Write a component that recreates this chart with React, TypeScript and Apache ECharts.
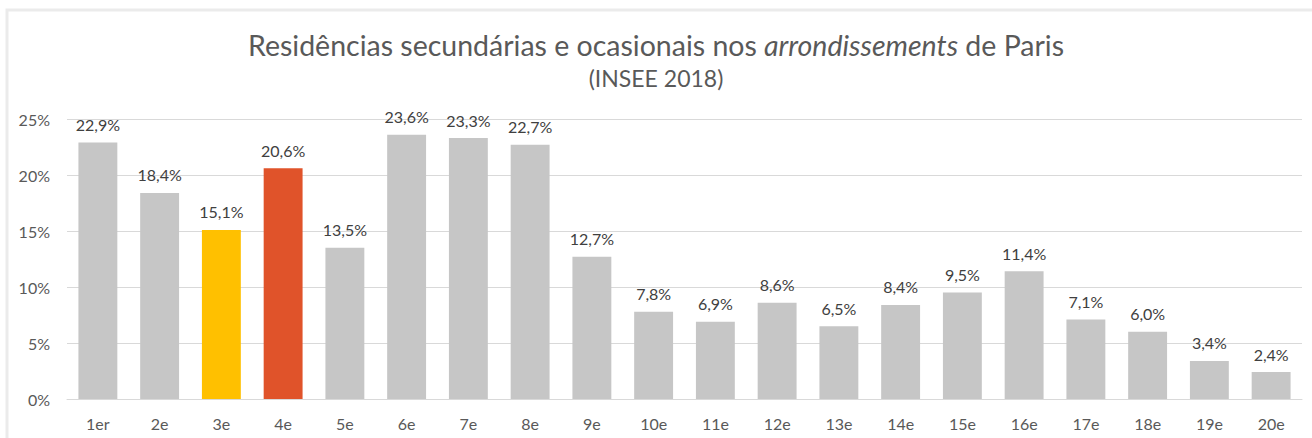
import React, { useEffect, useRef } from "react";
import * as echarts from "echarts";

const categories = ["1er", "2e", "3e", "4e", "5e", "6e", "7e", "8e", "9e", "10e", "11e", "12e", "13e", "14e", "15e", "16e", "17e", "18e", "19e", "20e"];
const values = [22.9, 18.4, 15.1, 20.6, 13.5, 23.6, 23.3, 22.7, 12.7, 7.8, 6.9, 8.6, 6.5, 8.4, 9.5, 11.4, 7.1, 6.0, 3.4, 2.4];
const highlight: Record<string, string> = { "3e": "#FFC000", "4e": "#E0532A" };
const baseColor = "#C6C6C6";
const yTicks = [0, 5, 10, 15, 20, 25];

const FONT = "Lato, 'Open Sans', sans-serif";

export default function App() {
  const ref = useRef<HTMLDivElement>(null);
  useEffect(() => {
    if (!ref.current) return;
    const chart = echarts.init(ref.current, null, { renderer: "svg" });
    chart.setOption({
      animation: false,
      backgroundColor: "#ffffff",
      textStyle: { fontFamily: FONT },
      graphic: [
        { type: "rect", shape: { x: 7, y: 10, width: 1310, height: 440 }, style: { fill: "none", stroke: "#ebebeb", lineWidth: 3 }, silent: true },
      ],
      title: [
        {
          text: "{a|Residências secundárias e ocasionais nos }{b|arrondissements}{a| de Paris}",
          left: "center",
          top: 25,
          textStyle: {
            fontWeight: "normal",
            rich: {
              a: { fontSize: 28.5, color: "#595959", fontWeight: "normal", fontFamily: FONT },
              b: { fontSize: 28.5, color: "#595959", fontWeight: "normal", fontStyle: "italic", fontFamily: FONT },
            },
          },
        },
        {
          text: "(INSEE 2018)",
          left: "center",
          top: 61,
          textStyle: { fontSize: 23, color: "#595959", fontWeight: "normal", fontFamily: FONT },
        },
      ],
      grid: { left: 67, right: 10, top: 119, bottom: 39 },
      xAxis: {
        type: "category",
        data: categories,
        axisLine: { lineStyle: { color: "#d9d9d9", width: 1 } },
        axisTick: { show: false },
        axisLabel: { color: "#595959", fontSize: 16, margin: 16, fontFamily: FONT },
      },
      yAxis: {
        type: "value",
        min: yTicks[0],
        max: yTicks[yTicks.length - 1],
        interval: 5,
        axisLine: { show: false },
        axisTick: { show: false },
        splitLine: { lineStyle: { color: "#d9d9d9", width: 1 } },
        axisLabel: { color: "#595959", fontSize: 16, margin: 17, formatter: (v: number) => `${v}%`, fontFamily: FONT },
      },
      series: [
        {
          type: "bar",
          barWidth: "63%",
          data: categories.map((c, i) => ({
            value: values[i],
            itemStyle: { color: highlight[c] || baseColor },
          })),
          label: {
            show: true,
            position: "top",
            distance: 10,
            color: "#404040",
            fontSize: 16,
            fontFamily: FONT,
            formatter: (p: any) => `${Number(p.value).toFixed(1).replace(".", ",")}%`,
          },
        },
      ],
    });
    return () => chart.dispose();
  }, []);
  return <div ref={ref} style={{ position: "absolute", left: 0, top: 0, width: 1312, height: 438 }} />;
}
